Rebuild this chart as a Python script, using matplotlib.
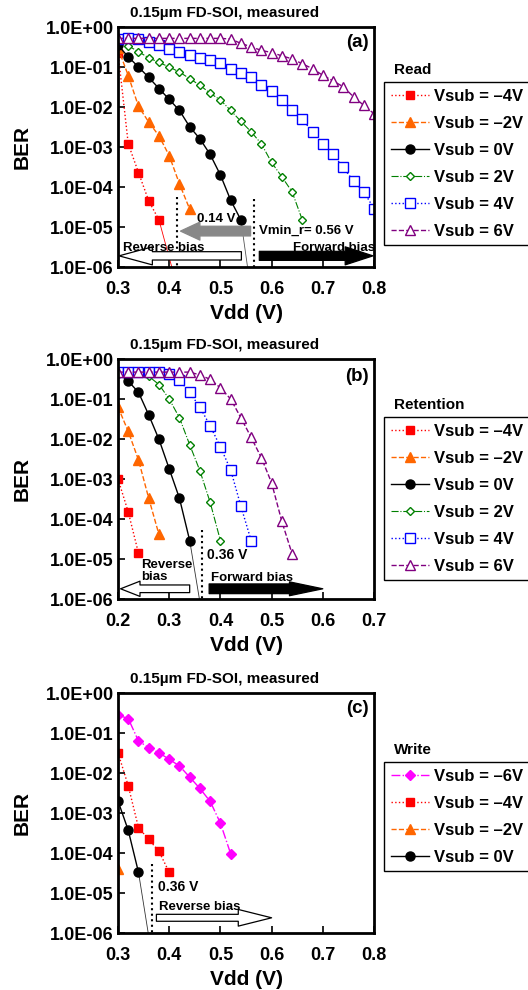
import numpy as np
import matplotlib
matplotlib.use("Agg")
import matplotlib.pyplot as plt

plt.rcParams['font.family'] = ['Liberation Sans', 'DejaVu Sans']
plt.rcParams['font.weight'] = 'bold'

# ---------------- data ----------------
# (a) Read
read_vdd = [0.30, 0.32, 0.34, 0.36, 0.38, 0.40, 0.42, 0.44, 0.46, 0.48, 0.50, 0.52, 0.54,
            0.56, 0.58, 0.60, 0.62, 0.64, 0.66, 0.68, 0.70, 0.72, 0.74, 0.76, 0.78, 0.80]
read_m4 = [2.3e-1, 1.2e-3, 2.3e-4, 4.5e-5, 1.5e-5]
read_m2 = [3.0e-1, 6.1e-2, 1.04e-2, 4.2e-3, 1.9e-3, 6.1e-4, 1.2e-4, 2.8e-5]
read_0 = [3.5e-1, 1.8e-1, 1.0e-1, 5.5e-2, 2.9e-2, 1.55e-2, 8.2e-3, 3.2e-3, 1.6e-3,
          6.5e-4, 2.0e-4, 4.7e-5, 1.5e-5]
read_p2 = [4.9e-1, 3.4e-1, 2.4e-1, 1.7e-1, 1.3e-1, 1.0e-1, 7.5e-2, 5.1e-2, 3.5e-2, 2.2e-2,
           1.5e-2, 8.2e-3, 4.4e-3, 2.4e-3, 1.2e-3, 4.1e-4, 1.8e-4, 7.6e-5, 1.5e-5]
read_p4 = [5.0e-1, 5.4e-1, 4.9e-1, 4.3e-1, 3.5e-1, 2.9e-1, 2.4e-1, 2.0e-1, 1.7e-1, 1.48e-1,
           1.23e-1, 9.1e-2, 7.1e-2, 5.5e-2, 3.5e-2, 2.5e-2, 1.5e-2, 8.5e-3, 4.9e-3, 2.4e-3,
           1.2e-3, 6.5e-4, 3.1e-4, 1.4e-4, 7.6e-5, 2.9e-5]
read_p6 = [5.2e-1, 5.2e-1, 5.2e-1, 5.2e-1, 5.2e-1, 5.2e-1, 5.2e-1, 5.2e-1, 5.2e-1, 5.2e-1,
           5.2e-1, 5.0e-1, 3.9e-1, 3.2e-1, 2.6e-1, 2.3e-1, 1.9e-1, 1.6e-1, 1.2e-1, 9.1e-2,
           6.2e-2, 4.5e-2, 3.2e-2, 1.8e-2, 1.1e-2, 6.8e-3]
read_fit_m4 = ([0.38, 0.405], [1.5e-5, 1e-6])
read_fit_0 = ([0.54, 0.553], [1.5e-5, 1e-6])

# (b) Retention
ret_vdd = [0.20, 0.22, 0.24, 0.26, 0.28, 0.30, 0.32, 0.34, 0.36, 0.38, 0.40, 0.42, 0.44,
           0.46, 0.48, 0.50, 0.52, 0.54]
ret_m4 = [1.0e-3, 1.5e-4, 1.4e-5]
ret_m2 = [6.3e-2, 1.55e-2, 3.0e-3, 3.3e-4, 4.1e-5]
ret_0 = [4.5e-1, 2.8e-1, 1.47e-1, 4.0e-2, 9.8e-3, 1.8e-3, 3.3e-4, 2.9e-5]
ret_p2 = [4.7e-1, 4.7e-1, 4.5e-1, 3.7e-1, 2.3e-1, 1.0e-1, 3.4e-2, 7.2e-3, 1.6e-3, 2.6e-4, 2.9e-5]
ret_p4 = [4.7e-1, 4.7e-1, 4.7e-1, 4.7e-1, 4.7e-1, 4.2e-1, 3.0e-1, 1.47e-1, 6.2e-2, 2.15e-2,
          6.3e-3, 1.7e-3, 2.1e-4, 2.9e-5]
ret_p6 = [4.7e-1, 4.7e-1, 4.7e-1, 4.7e-1, 4.7e-1, 4.7e-1, 4.7e-1, 4.7e-1, 4.0e-1, 3.1e-1,
          1.9e-1, 1.0e-1, 3.4e-2, 1.1e-2, 3.4e-3, 8.0e-4, 8.7e-5, 1.35e-5]
ret_fit_0 = ([0.34, 0.359], [2.9e-5, 1e-6])

# (c) Write
wr_vdd = [0.30, 0.32, 0.34, 0.36, 0.38, 0.40, 0.42, 0.44, 0.46, 0.48, 0.50, 0.52]
wr_m6 = [2.8e-1, 2.3e-1, 6.3e-2, 4.3e-2, 3.2e-2, 2.2e-2, 1.5e-2, 7.9e-3, 4.1e-3, 1.95e-3,
         5.6e-4, 9.6e-5]
wr_m4 = [3.2e-2, 4.8e-3, 4.3e-4, 2.2e-4, 1.1e-4, 3.3e-5]
wr_m2 = [4.0e-5]
wr_0 = [2.0e-3, 3.7e-4, 3.3e-5]
wr_fit_0 = ([0.34, 0.359], [3.3e-5, 1e-6])

yticks = [1e-6, 1e-5, 1e-4, 1e-3, 1e-2, 1e-1, 1e0]

# styles per Vsub
sty = {
    '-6': dict(color='#ff00ff', ls='-.', lw=1.0, marker='D', ms=5.5, mfc='#ff00ff', mec='#ff00ff'),
    '-4': dict(color='#ff0000', ls=':', lw=1.0, marker='s', ms=6, mfc='#ff0000', mec='#ff0000'),
    '-2': dict(color='#ff6600', ls='--', lw=1.0, marker='^', ms=6.5, mfc='#ff6600', mec='#ff6600'),
    '0': dict(color='black', ls='-', lw=1.0, marker='o', ms=6.5, mfc='black', mec='black'),
    '2': dict(color='#008000', ls='-.', lw=0.8, marker='D', ms=4.2, mfc='white', mec='#008000', mew=1),
    '4': dict(color='#0000ff', ls=':', lw=1.0, marker='s', ms=6.5, mfc='white', mec='#0000ff', mew=1),
    '6': dict(color='#800080', ls='--', lw=1.0, marker='^', ms=7, mfc='white', mec='#800080', mew=1),
}
names = {'-6': 'Vsub = \u20136V', '-4': 'Vsub = \u20134V', '-2': 'Vsub = \u20132V',
         '0': 'Vsub = 0V', '2': 'Vsub = 2V', '4': 'Vsub = 4V', '6': 'Vsub = 6V'}

W, H = 528, 990
fig = plt.figure(figsize=(W / 100, H / 100), dpi=100)


def make_ax(top_px, xlim, xticks):
    ax = fig.add_axes([118 / W, 1 - (top_px + 240) / H, 256 / W, 240 / H])
    ax.set_yscale('log')
    ax.set_ylim(1e-6, 1)
    ax.set_xlim(*xlim)
    ax.set_yticks(yticks)
    ax.set_yticklabels(['%.1E' % v for v in yticks], fontsize=13, fontweight='bold')
    ax.minorticks_off()
    ax.set_xticks(xticks)
    ax.set_xticklabels(['%.1f' % v for v in xticks], fontsize=13, fontweight='bold')
    ax.tick_params(axis='x', direction='in', length=5, width=1.2, pad=10)
    ax.tick_params(axis='y', direction='in', length=5, width=1.2, pad=3)
    for s in ax.spines.values():
        s.set_linewidth(2)
    ax.set_ylabel('BER', fontsize=15, fontweight='bold')
    ax.yaxis.set_label_coords(-0.336, 0.5)
    ax.set_xlabel('Vdd (V)', fontsize=15, fontweight='bold')
    ax.xaxis.set_label_coords(0.5, -0.155)
    fig.text(225 / W, 1 - (top_px - 14) / H, '0.15\u00b5m FD-SOI, measured',
             ha='center', va='center', fontsize=11, fontweight='bold')
    return ax


def arrow(ax, x0, x1, y, fc, ec, tw, hw, hl):
    ax.annotate('', xy=(x1, y), xytext=(x0, y), annotation_clip=False,
                arrowprops=dict(arrowstyle='simple,tail_width=%g,head_width=%g,head_length=%g' % (tw, hw, hl),
                                fc=fc, ec=ec, lw=0.9, shrinkA=0, shrinkB=0, mutation_scale=10))


def legend(ax, keys, title, top_px):
    handles = [plt.Line2D([], [], **sty[k]) for k in keys]
    fig.text(394 / W, 1 - (top_px - 12) / H, title, ha='left', va='center',
             fontsize=11, fontweight='bold')
    fig.legend(handles, [names[k] for k in keys], loc='upper left',
               bbox_to_anchor=(384 / W, 1 - top_px / H), bbox_transform=fig.transFigure,
               frameon=True, fancybox=False, edgecolor='black', framealpha=1,
               borderaxespad=0, borderpad=0.4, labelspacing=0.72, handlelength=2.3,
               handletextpad=0.3, prop=dict(size=12, weight='bold'))


# ---------------- (a) Read ----------------
ax = make_ax(27, (0.3, 0.8), [0.3, 0.4, 0.5, 0.6, 0.7, 0.8])
arrow(ax, 0.541, 0.302, 1.9e-6, 'white', 'black', 0.6, 1.3, 2.4)
arrow(ax, 0.576, 0.798, 1.9e-6, 'black', 'black', 0.65, 1.3, 2.0)
arrow(ax, 0.559, 0.422, 7.9e-6, '#888888', '#888888', 0.7, 1.3, 1.4)
ax.plot([0.415, 0.415], [5.5e-5, 1e-6], color='black', ls=':', lw=1.5)
ax.plot([0.565, 0.565], [5e-5, 1e-6], color='black', ls=':', lw=1.5)
ax.plot(*read_fit_m4, color='#ff0000', lw=0.6)
ax.plot(*read_fit_0, color='#555555', lw=0.6)
ax.plot(read_vdd[:len(read_m4)], read_m4, **sty['-4'])
ax.plot(read_vdd[:len(read_m2)], read_m2, **sty['-2'])
ax.plot(read_vdd[:len(read_0)], read_0, **sty['0'])
ax.plot(read_vdd[:len(read_p2)], read_p2, **sty['2'])
ax.plot(read_vdd[:len(read_p4)], read_p4, **sty['4'])
ax.plot(read_vdd[:len(read_p6)], read_p6, **sty['6'])
ax.text(0.454, 10 ** -4.81, '0.14 V', fontsize=9.5, fontweight='bold', va='center')
ax.text(0.5745, 10 ** -5.1, 'Vmin_r= 0.56 V', fontsize=9.5, fontweight='bold', va='center')
ax.text(0.39, 10 ** -5.52, 'Reverse bias', fontsize=9.5, fontweight='bold', ha='center', va='center')
ax.text(0.721, 10 ** -5.52, 'Forward bias', fontsize=9.5, fontweight='bold', ha='center', va='center')
ax.text(0.98, 0.937, '(a)', transform=ax.transAxes, fontsize=13.5, fontweight='bold',
        ha='right', va='center')
legend(ax, ['-4', '-2', '0', '2', '4', '6'], 'Read', 82)

# ---------------- (b) Retention ----------------
ax = make_ax(359, (0.2, 0.7), [0.2, 0.3, 0.4, 0.5, 0.6, 0.7])
arrow(ax, 0.34, 0.205, 1.8e-6, 'white', 'black', 0.55, 1.1, 1.4)
arrow(ax, 0.378, 0.60, 1.8e-6, 'black', 'black', 0.7, 1.0, 2.4)
ax.plot([0.365, 0.365], [10 ** -4.27, 1e-6], color='black', ls=':', lw=1.5)
ax.plot(*ret_fit_0, color='#333333', lw=0.6)
ax.plot(ret_vdd[:len(ret_m4)], ret_m4, **sty['-4'])
ax.plot(ret_vdd[:len(ret_m2)], ret_m2, **sty['-2'])
ax.plot(ret_vdd[:len(ret_0)], ret_0, **sty['0'])
ax.plot(ret_vdd[:len(ret_p2)], ret_p2, **sty['2'])
ax.plot(ret_vdd[:len(ret_p4)], ret_p4, **sty['4'])
ax.plot(ret_vdd[:len(ret_p6)], ret_p6, **sty['6'])
ax.text(0.373, 10 ** -4.91, '0.36 V', fontsize=10, fontweight='bold', va='center')
ax.text(0.246, 10 ** -5.3, 'Reverse\nbias', fontsize=9.5, fontweight='bold', va='center',
        linespacing=1.0)
ax.text(0.381, 10 ** -5.47, 'Forward bias', fontsize=9.5, fontweight='bold', va='center')
ax.text(0.98, 0.927, '(b)', transform=ax.transAxes, fontsize=13.5, fontweight='bold',
        ha='right', va='center')
legend(ax, ['-4', '-2', '0', '2', '4', '6'], 'Retention', 417)

# ---------------- (c) Write ----------------
ax = make_ax(693, (0.3, 0.8), [0.3, 0.4, 0.5, 0.6, 0.7, 0.8])
arrow(ax, 0.375, 0.60, 2.4e-6, 'white', 'black', 0.5, 1.2, 2.4)
ax.plot([0.366, 0.366], [10 ** -4.27, 1e-6], color='black', ls=':', lw=1.5)
ax.plot(*wr_fit_0, color='#333333', lw=0.6)
ax.plot(wr_vdd[:len(wr_m6)], wr_m6, **sty['-6'])
ax.plot(wr_vdd[:len(wr_m4)], wr_m4, **sty['-4'])
ax.plot(wr_vdd[:len(wr_m2)], wr_m2, **sty['-2'])
ax.plot(wr_vdd[:len(wr_0)], wr_0, **sty['0'])
ax.text(0.378, 10 ** -4.85, '0.36 V', fontsize=10, fontweight='bold', va='center')
ax.text(0.38, 10 ** -5.35, 'Reverse bias', fontsize=9.5, fontweight='bold', va='center')
ax.text(0.98, 0.935, '(c)', transform=ax.transAxes, fontsize=13.5, fontweight='bold',
        ha='right', va='center')
legend(ax, ['-6', '-4', '-2', '0'], 'Write', 762)

fig.savefig('out.png', dpi=100)
